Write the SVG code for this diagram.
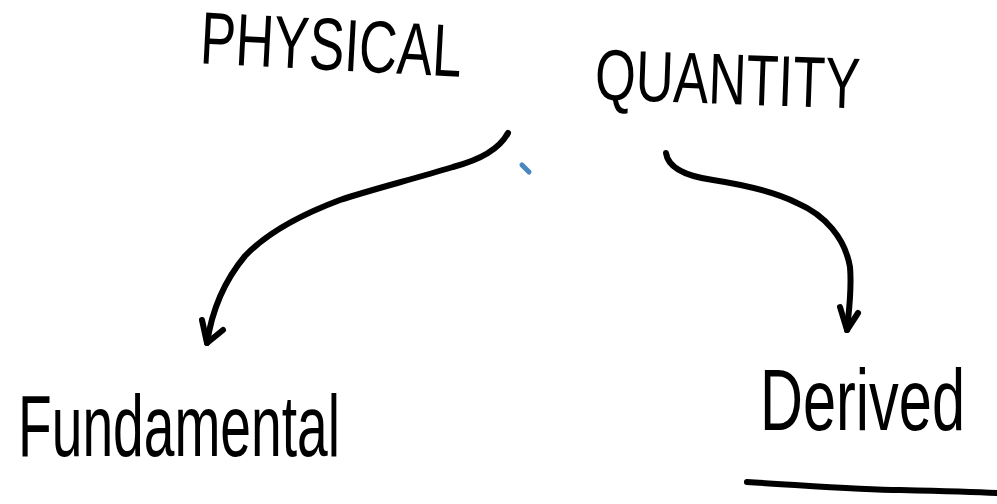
<svg xmlns="http://www.w3.org/2000/svg" width="997" height="504" viewBox="0 0 997 504">
<style>
.ink{fill:none;stroke:#000;stroke-width:6;stroke-linecap:round;stroke-linejoin:round}
.lbl{font-family:"Liberation Sans",Arial,sans-serif;fill:#000}
</style>
<rect width="997" height="504" fill="#fff"/>
<g id="node-physical-quantity">
<text class="lbl" x="200" y="70" font-size="74" textLength="262" lengthAdjust="spacingAndGlyphs" transform="rotate(3 330 50)">PHYSICAL</text>
<text class="lbl" x="595" y="104" font-size="72" textLength="265" lengthAdjust="spacingAndGlyphs" transform="rotate(2 728 80)">QUANTITY</text>
</g>
<g id="node-fundamental">
<text class="lbl" x="18" y="456" font-size="88" textLength="322" lengthAdjust="spacingAndGlyphs">Fundamental</text>
</g>
<g id="node-derived">
<text class="lbl" x="760" y="430" font-size="88" textLength="205" lengthAdjust="spacingAndGlyphs">Derived</text>
</g>
<g id="connectors">
<path class="ink" d="M508,133 C500,148 480,160 453,167 C410,180 370,190 340,200 C300,215 265,235 245,256 C225,280 212,310 207,343"/>
<path class="ink" d="M202,320 L207,343 L223,330"/>
<path class="ink" d="M666,153 C668,168 685,176 713,180 C745,185 775,192 797,203 C825,215 845,238 850,267 C852,290 849,310 847,330"/>
<path class="ink" d="M840,307 L847,330 L858,313"/>
</g>
<g id="marks">
<path class="ink" d="M747,482 C800,485 860,490 900,490 C940,491 975,492 997,493"/>
<path d="M522,165 L529,172" fill="none" stroke="#4a86c0" stroke-width="5" stroke-linecap="round"/>
</g>
</svg>
